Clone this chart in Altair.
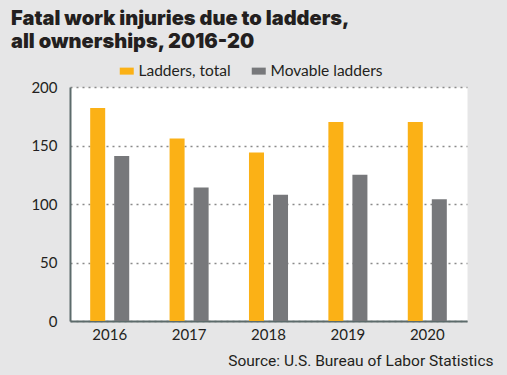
import altair as alt
import pandas as pd

years = ["2016", "2017", "2018", "2019", "2020"]
ladders_total = [182, 156, 144, 170, 170]
movable_ladders = [141, 114, 108, 125, 104]
series = ["Ladders, total", "Movable ladders"]
colors = ["#fbb116", "#77787b"]
y_ticks = [0, 50, 100, 150, 200]
title_lines = ["Fatal work injuries due to ladders,", "all ownerships, 2016-20"]
source = "Source: U.S. Bureau of Labor Statistics"

rows = []
for yr, a, b in zip(years, ladders_total, movable_ladders):
    rows.append({"year": yr, "series": series[0], "value": a})
    rows.append({"year": yr, "series": series[1], "value": b})
df = pd.DataFrame(rows)

label_font = "Lato"
text_color = "#231f20"

chart = alt.Chart(df).mark_bar().encode(
    x=alt.X(
        "year:N",
        sort=years,
        scale=alt.Scale(paddingInner=0, paddingOuter=0),
        axis=alt.Axis(
            title=source,
            titleAnchor="end",
            titleAlign="right",
            titleX=423,
            titleY=44,
            titleBaseline="alphabetic",
            titleFont="Roboto",
            titleFontSize=15.5,
            titleFontWeight="normal",
            titleColor=text_color,
            labelAngle=0,
            labelFont=label_font,
            labelFontSize=15,
            labelColor=text_color,
            labelPadding=6,
            ticks=False,
            domainColor="#5c6b6b",
            domainWidth=2,
        ),
    ),
    xOffset=alt.XOffset(
        "series:N",
        sort=series,
        scale=alt.Scale(paddingInner=0.375, paddingOuter=0.84),
    ),
    y=alt.Y(
        "value:Q",
        scale=alt.Scale(domain=[0, 200]),
        axis=alt.Axis(
            values=y_ticks,
            title=None,
            grid=True,
            gridDash=[2, 4],
            gridColor="#8a8a8a",
            gridWidth=1.5,
            ticks=False,
            labelFont=label_font,
            labelFontSize=15,
            labelColor=text_color,
            labelPadding=13,
            domainColor="#5c6b6b",
            domainWidth=2,
        ),
    ),
    color=alt.Color(
        "series:N",
        scale=alt.Scale(domain=series, range=colors),
        legend=alt.Legend(
            title=None,
            orient="none",
            direction="horizontal",
            legendX=49,
            legendY=-24,
            padding=0,
            symbolType="M-1,-0.5H1V0.5H-1Z",
            symbolSize=196,
            symbolStrokeWidth=0,
            labelFont=label_font,
            labelFontSize=15.5,
            labelColor=text_color,
            labelOffset=4,
            columnPadding=20,
        ),
    ),
).properties(
    width=397,
    height=234,
    autosize="none",
    padding={"left": 70, "top": 87, "right": 40, "bottom": 54},
    background="#e6e6e7",
    title=alt.TitleParams(
        text=title_lines,
        anchor="start",
        frame="group",
        dx=-59,
        dy=45,
        offset=40,
        baseline="alphabetic",
        font="Inter",
        fontSize=20,
        fontWeight=900,
        lineHeight=23,
        color=text_color,
    ),
).configure_view(fill="white", stroke="transparent")

chart.save("out.html", embed_options={"renderer": "svg", "actions": False})
